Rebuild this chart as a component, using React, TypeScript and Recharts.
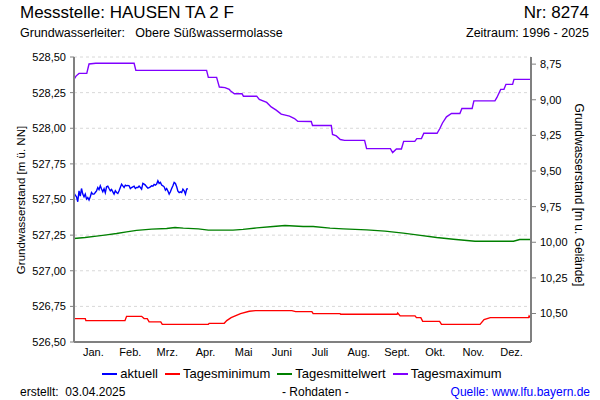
import { LineChart, Line, XAxis, YAxis, CartesianGrid } from "recharts";

// Monatsgrenzen und -mitten (Tag im Jahr)
const monthStarts = [0, 31, 59, 90, 120, 151, 181, 212, 243, 273, 304, 334, 365];
const monthMids = [15.5, 45, 74.5, 105, 135.5, 166, 196.5, 227.5, 258, 288.5, 319, 349.5];
const monthLabels = ["Jan.", "Feb.", "Mrz.", "Apr.", "Mai", "Juni", "Juli", "Aug.", "Sept.", "Okt.", "Nov.", "Dez."];

const leftTicks = [526.5, 526.75, 527.0, 527.25, 527.5, 527.75, 528.0, 528.25, 528.5];
const rightTicks = [8.75, 9.0, 9.25, 9.5, 9.75, 10.0, 10.25, 10.5];
// Geländehöhe [m ü. NN]
const GROUND = 537.2;

// aktuell: Tageswerte ab 1. Januar
const aktuellValues = [
  527.547, 527.53, 527.519, 527.484, 527.561, 527.524, 527.577, 527.538, 527.519, 527.538,
  527.503, 527.514, 527.496, 527.519, 527.549, 527.538, 527.538, 527.549, 527.561, 527.584,
  527.57, 527.596, 527.573, 527.554, 527.575, 527.547, 527.589, 527.594, 527.577, 527.561,
  527.57, 527.554, 527.538, 527.561, 527.549, 527.542, 527.561, 527.584, 527.608, 527.596,
  527.584, 527.601, 527.596, 527.599, 527.596, 527.577, 527.584, 527.589, 527.594, 527.577,
  527.584, 527.584, 527.594, 527.584, 527.573, 527.613, 527.608, 527.601, 527.589, 527.58,
  527.584, 527.589, 527.596, 527.594, 527.606, 527.601, 527.608, 527.631, 527.613, 527.62,
  527.601, 527.596, 527.589, 527.566, 527.577, 527.559, 527.538, 527.554, 527.577, 527.596,
  527.62, 527.613, 527.589, 527.559, 527.549, 527.554, 527.549, 527.573, 527.561, 527.538,
  527.573, 527.577,
];

// Tagesminimum
const minDays = [0, 9, 9.5, 40.7, 42, 54, 56, 58.5, 60, 69.3, 70.5, 107.3, 108, 120, 122, 125.5, 133, 140, 145, 174, 177, 190, 191, 212.5, 213, 258, 258.5, 260.5, 272.4, 273.5, 277, 278.5, 292, 293.5, 324.3, 327.5, 332.5, 363, 363.5, 365];
const minValues = [526.664, 526.664, 526.65, 526.65, 526.68, 526.68, 526.664, 526.664, 526.641, 526.641, 526.624, 526.624, 526.631, 526.631, 526.65, 526.671, 526.699, 526.716, 526.72, 526.72, 526.713, 526.713, 526.699, 526.699, 526.695, 526.695, 526.704, 526.683, 526.683, 526.671, 526.671, 526.645, 526.645, 526.624, 526.624, 526.657, 526.671, 526.671, 526.683, 526.664];

// Tagesmittelwert
const meanDays = [0, 8.8, 18, 26, 34, 42, 50, 62, 74, 80.7, 87.3, 99.3, 107.3, 127, 135, 146, 159, 168.5, 183, 191, 204.5, 215, 233.7, 248.4, 263, 273.7, 289.7, 303, 320.3, 351, 356, 365];
const meanValues = [527.226, 527.233, 527.243, 527.252, 527.261, 527.273, 527.283, 527.292, 527.297, 527.304, 527.299, 527.294, 527.285, 527.285, 527.29, 527.301, 527.311, 527.318, 527.311, 527.311, 527.299, 527.294, 527.287, 527.278, 527.264, 527.252, 527.233, 527.221, 527.207, 527.207, 527.219, 527.219];

// Tagesmaximum
const maxDays = [0, 1.6, 4, 10.2, 12, 17.4, 48, 49.4, 105.9, 107.3, 113.9, 116.1, 120.6, 124, 124.9, 128.1, 134.2, 135.3, 145.9, 148, 153.9, 157.5, 161.5, 165.5, 172.1, 176.1, 178.7, 189.5, 190.5, 205.5, 206.5, 209.5, 212.7, 216.1, 232.1, 233.7, 252.7, 254.5, 257.5, 261.5, 263.3, 272.2, 273.8, 277.5, 279.4, 290, 292.2, 294.3, 297.5, 301.5, 308.2, 309.8, 318, 319.4, 336.2, 337.8, 340.8, 343.4, 345, 350.3, 351.4, 365];
const maxValues = [528.343, 528.366, 528.385, 528.385, 528.451, 528.456, 528.456, 528.406, 528.406, 528.357, 528.357, 528.289, 528.285, 528.273, 528.263, 528.242, 528.242, 528.225, 528.225, 528.202, 528.181, 528.15, 528.127, 528.099, 528.085, 528.068, 528.049, 528.047, 528.019, 528.019, 527.956, 527.946, 527.921, 527.915, 527.915, 527.857, 527.857, 527.829, 527.854, 527.854, 527.908, 527.908, 527.927, 527.927, 527.965, 527.965, 527.998, 528.037, 528.08, 528.104, 528.104, 528.139, 528.139, 528.192, 528.192, 528.216, 528.273, 528.273, 528.308, 528.308, 528.343, 528.343];

const aktuellData = aktuellValues.map((v, i) => ({ day: i, value: v }));
const minData = minDays.map((d, i) => ({ day: d, value: minValues[i] }));
const meanData = meanDays.map((d, i) => ({ day: d, value: meanValues[i] }));
const maxData = maxDays.map((d, i) => ({ day: d, value: maxValues[i] }));

const legendItems = [
  { name: "aktuell", color: "#0000ff" },
  { name: "Tagesminimum", color: "#ff0000" },
  { name: "Tagesmittelwert", color: "#008000" },
  { name: "Tagesmaximum", color: "#8000ff" },
];

const FONT = "'Liberation Sans', Arial, Helvetica, sans-serif";
const fmt = (v: number) => v.toFixed(2).replace(".", ",");
const axisColor = "#808080";
const tickStyle = { fontSize: 11, fill: "#000", fontFamily: FONT };

export default function App() {
  return (
    <div
      style={{
        position: "absolute",
        left: 0,
        top: 0,
        width: 600,
        height: 400,
        background: "#fff",
        fontFamily: FONT,
        color: "#000",
        overflow: "hidden",
      }}
    >
      <div style={{ position: "absolute", left: 20, top: 3, fontSize: 17 }}>
        Messstelle: HAUSEN TA 2 F
      </div>
      <div style={{ position: "absolute", right: 11, top: 3, fontSize: 17 }}>
        Nr: 8274
      </div>
      <div style={{ position: "absolute", left: 20, top: 26, fontSize: 12.5, whiteSpace: "pre" }}>
        {"Grundwasserleiter:   Obere Süßwassermolasse"}
      </div>
      <div style={{ position: "absolute", right: 11, top: 26, fontSize: 12.5 }}>
        Zeitraum: 1996 - 2025
      </div>

      <LineChart
        width={600}
        height={400}
        margin={{ top: 57, right: 0, bottom: 34, left: 0 }}
      >
        <CartesianGrid
          stroke="#d8d8d8"
          strokeDasharray="3 3"
          horizontalValues={leftTicks}
          verticalValues={monthStarts}
        />
        <XAxis
          dataKey="day"
          type="number"
          domain={[0, 365]}
          allowDataOverflow
          ticks={monthStarts}
          tick={false}
          tickSize={5}
          height={6}
          axisLine={{ stroke: axisColor, strokeWidth: 2 }}
          tickLine={{ stroke: axisColor }}
        />
        <XAxis
          xAxisId="m"
          dataKey="day"
          type="number"
          domain={[0, 365]}
          allowDataOverflow
          ticks={monthMids}
          tickFormatter={(_v: number, i: number) => monthLabels[i]}
          axisLine={false}
          tickLine={false}
          tickSize={0}
          tickMargin={0}
          height={18}
          interval={0}
          tick={tickStyle}
        />
        <YAxis
          type="number"
          domain={[526.5, 528.5]}
          allowDataOverflow
          ticks={leftTicks}
          tickFormatter={fmt}
          width={74}
          tickSize={4}
          tickMargin={4}
          interval={0}
          tick={tickStyle}
          axisLine={{ stroke: axisColor, strokeWidth: 2 }}
          tickLine={{ stroke: axisColor }}
        />
        <YAxis
          yAxisId="right"
          orientation="right"
          type="number"
          reversed
          domain={[GROUND - 528.5, GROUND - 526.5]}
          allowDataOverflow
          ticks={rightTicks}
          tickFormatter={fmt}
          width={69}
          tickSize={5}
          tickMargin={4}
          interval={0}
          tick={tickStyle}
          axisLine={{ stroke: axisColor, strokeWidth: 2 }}
          tickLine={{ stroke: axisColor }}
        />
        <Line data={maxData} dataKey="value" stroke="#8000ff" strokeWidth={1.4} dot={false} isAnimationActive={false} />
        <Line data={meanData} dataKey="value" stroke="#008000" strokeWidth={1.4} dot={false} isAnimationActive={false} />
        <Line data={minData} dataKey="value" stroke="#ff0000" strokeWidth={1.4} dot={false} isAnimationActive={false} />
        <Line xAxisId="m" data={aktuellData} dataKey="value" stroke="#0000ff" strokeWidth={1.4} dot={false} isAnimationActive={false} />
      </LineChart>

      <div
        style={{
          position: "absolute",
          left: 21,
          top: 200,
          fontSize: 11.5,
          whiteSpace: "nowrap",
          transform: "translate(-50%, -50%) rotate(-90deg)",
        }}
      >
        Grundwasserstand [m ü. NN]
      </div>
      <div
        style={{
          position: "absolute",
          left: 579,
          top: 195,
          fontSize: 12,
          whiteSpace: "nowrap",
          transform: "translate(-50%, -50%) rotate(90deg)",
        }}
      >
        Grundwasserstand [m u. Gelände]
      </div>

      <div
        style={{
          position: "absolute",
          left: 0,
          width: 604,
          top: 366,
          display: "flex",
          justifyContent: "center",
          fontSize: 13,
          gap: 7,
        }}
      >
        {legendItems.map((item) => (
          <div key={item.name} style={{ display: "flex", alignItems: "center" }}>
            <span
              style={{
                display: "inline-block",
                width: 15,
                height: 2,
                background: item.color,
                marginRight: 3,
              }}
            />
            <span>{item.name}</span>
          </div>
        ))}
      </div>

      <div style={{ position: "absolute", left: 20, top: 385, fontSize: 12, whiteSpace: "pre" }}>
        {"erstellt:  03.04.2025"}
      </div>
      <div style={{ position: "absolute", left: 282, top: 385, fontSize: 12 }}>
        - Rohdaten -
      </div>
      <div style={{ position: "absolute", right: 10, top: 385, fontSize: 12, color: "#0000ff" }}>
        Quelle: www.lfu.bayern.de
      </div>
    </div>
  );
}
